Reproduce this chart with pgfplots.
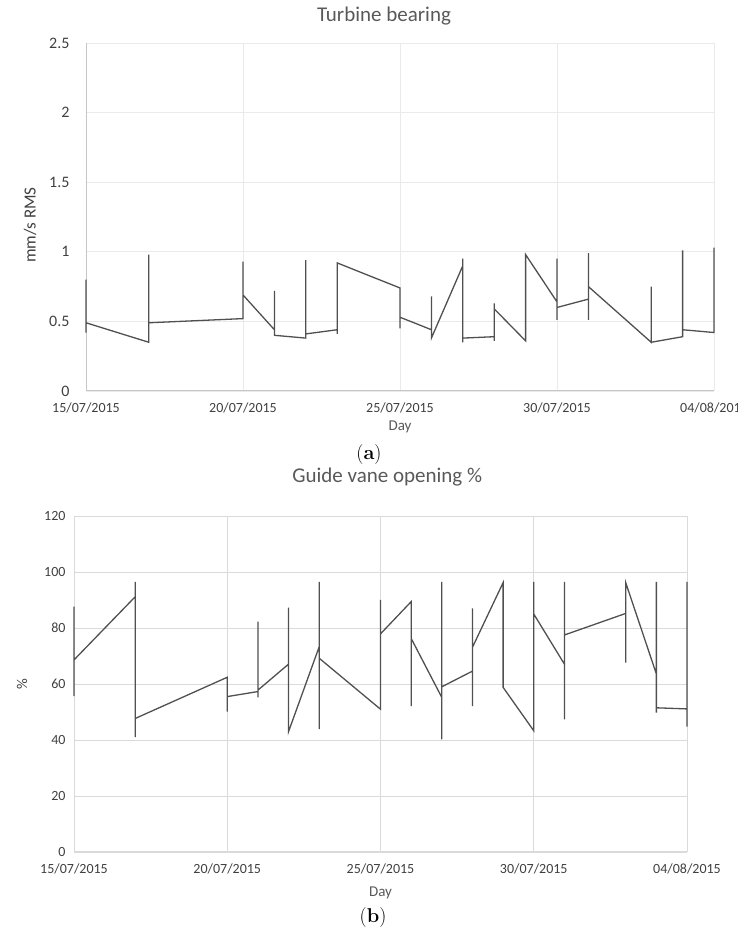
\documentclass[border=0pt]{standalone}
\usepackage{fontspec}
\newfontfamily\calibri{Carlito}
\usepackage{pgfplots}
\pgfplotsset{compat=1.18}
\definecolor{txt}{HTML}{404040}
\definecolor{ttl}{HTML}{595959}
\definecolor{ser}{HTML}{505050}
\definecolor{gridA}{HTML}{EAEAEA}
\definecolor{gridB}{HTML}{DADADA}
\definecolor{axA}{HTML}{C6C6C6}

\pgfplotsset{
  daychart/.style={
    scale only axis, clip=false,
    xmin=0, xmax=20,
    xtick={0,5,10,15,20},
    xticklabels={15/07/2015,20/07/2015,25/07/2015,30/07/2015,04/08/2015},
    grid=major,
    major tick length=0, tick style={draw=none},
    axis x line*=bottom, axis y line*=left,
    axis line style={-, line width=1pt},
    /pgf/number format/assume math mode=true,
    xticklabel style={font=\calibri\fontsize{14}{16}\selectfont, text=txt},
    title style={font=\calibri\fontsize{21}{24}\selectfont, text=ttl, anchor=center},
    xlabel={Day},
    xlabel style={font=\calibri\fontsize{15}{17}\selectfont, text=ttl,
      at={(axis description cs:0.5,0)}, anchor=center},
    ylabel style={font=\calibri\fontsize{15}{17}\selectfont, text=txt, anchor=center},
  }
}

\begin{document}
\begin{tikzpicture}
\path[use as bounding box] (0pt,0pt) rectangle (737pt,941pt);

% (a) turbine bearing vibration
\begin{axis}[daychart,
  at={(86pt,550pt)}, anchor=south west,
  width=628pt, height=348pt,
  ymin=0, ymax=2.5, ytick={0,0.5,1,1.5,2,2.5},
  major grid style={draw=gridA, line width=0.9pt},
  axis line style={draw=axA},
  yticklabel style={font=\calibri\fontsize{16}{18}\selectfont, text=txt, xshift=-13pt},
  xticklabel style={yshift=-8pt},
  title={Turbine bearing},
  title style={at={(axis description cs:0.4745,1)}, yshift=21pt},
  xlabel style={yshift=-36pt},
  ylabel={mm/s RMS},
  ylabel style={font=\calibri\fontsize{17}{19}\selectfont, at={(axis description cs:-0.0892,0.477)}},
]
\addplot[ser, line width=1.3pt] coordinates {
  (0,0.80) (0,0.42) (0,0.49) (2,0.35) (2,0.98) (2,0.49) (5,0.52) (5,0.93)
  (5,0.69) (6,0.44) (6,0.72) (6,0.40) (7,0.38) (7,0.94) (7,0.41) (8,0.44)
  (8,0.41) (8,0.92) (10,0.74) (10,0.45) (10,0.53) (11,0.44) (11,0.68)
  (11,0.38) (12,0.90) (12,0.95) (12,0.35) (12,0.38) (13,0.39) (13,0.36)
  (13,0.63) (13,0.59) (14,0.36) (14,0.98) (15,0.64) (15,0.95) (15,0.51)
  (15,0.60) (16,0.66) (16,0.51) (16,0.99) (16,0.75) (18,0.35) (18,0.75)
  (18,0.35) (19,0.39) (19,1.01) (19,0.44) (20,0.42) (20,1.03)
};
\end{axis}

% (b) guide vane opening
\begin{axis}[daychart,
  at={(74pt,89pt)}, anchor=south west,
  width=613pt, height=336pt,
  ymin=0, ymax=120, ytick={0,20,40,60,80,100,120},
  major grid style={draw=gridB, line width=0.9pt},
  axis line style={draw=gridB},
  yticklabel style={font=\calibri\fontsize{14}{16}\selectfont, text=txt, xshift=-5pt},
  xticklabel style={yshift=-8pt},
  title={Guide vane opening \%},
  title style={at={(axis description cs:0.511,1)}, yshift=33pt},
  xlabel style={yshift=-41pt},
  ylabel={\%},
  ylabel style={at={(axis description cs:-0.0848,0.5)}},
]
\addplot[ser, line width=1.3pt] coordinates {
  (0,87.6) (0,55.7) (0,68.6) (2,91.2) (2,96.5) (2,41.0) (2,47.7) (5,62.4)
  (5,50.1) (5,55.5) (6,57.3) (6,82.3) (6,55.2) (6,57.8) (7,67.1) (7,87.3)
  (7,43.0) (8,73.3) (8,96.5) (8,43.9) (8,69.2) (10,51.0) (10,90.0) (10,77.9)
  (11,89.4) (11,52.1) (11,76.3) (12,55.2) (12,96.5) (12,40.2) (12,59.0)
  (13,64.6) (13,87.0) (13,52.1) (13,73.1) (14,96.2) (14,58.8) (15,43.3)
  (15,96.5) (15,85.0) (16,67.1) (16,96.5) (16,47.4) (16,77.5) (18,85.2)
  (18,67.6) (18,96.2) (19,63.6) (19,96.5) (19,49.8) (19,51.5) (20,51.1)
  (20,96.5) (20,44.8) (20,77.4)
};
\end{axis}

\node[font=\fontsize{20}{23}\selectfont] at (369pt,486pt) {(\textbf{a})};
\node[font=\fontsize{20}{23}\selectfont] at (373pt,23pt) {(\textbf{b})};
\end{tikzpicture}
\end{document}
